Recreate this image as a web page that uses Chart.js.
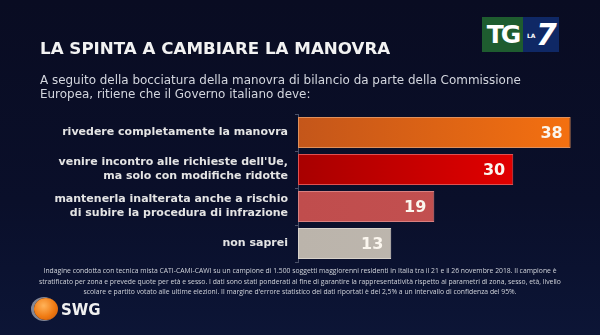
<!DOCTYPE html>
<html>
<head>
<meta charset="utf-8">
<script src="https://cdn.jsdelivr.net/npm/chart.js@4"></script>
<style>
  html, body { margin: 0; padding: 0; }
  body { width: 600px; height: 335px; overflow: hidden; }
  #wrap {
    position: relative; width: 600px; height: 335px;
    background: linear-gradient(180deg, #090c22 0%, #0a0f2a 60%, #0c1536 100%);
    font-family: "DejaVu Sans", Verdana, sans-serif;
  }
  #chart { position: absolute; left: 0; top: 0; }
  .txt { position: absolute; white-space: nowrap; }
  #title { left: 40px; top: 38px; font-size: 16.7px; font-weight: bold; color: #f2f2f2; }
  #subtitle { left: 40px; top: 73px; font-size: 11.95px; line-height: 14px; color: #d3d6de; }
  #note {
    left: 0; width: 600px; top: 266px; text-align: center;
    font-family: "Open Sans", sans-serif; font-size: 6.8px; line-height: 10.5px; color: #d0d3da;
  }
  #tg { position: absolute; left: 482px; top: 17px; width: 77px; height: 35px; }
  #tg .g { position: absolute; left: 0; top: 0; width: 41px; height: 35px; background: #1e5c2f;
           color: #fff; font: bold 25px "DejaVu Sans", sans-serif; letter-spacing: -3px; text-align: center; line-height: 35px; }
  #tg .b { position: absolute; left: 41px; top: 0; width: 36px; height: 35px; background: #0f2865; color: #fff; }
  #tg .la { position: absolute; left: 4px; top: 15px; font: bold 6px "DejaVu Sans", sans-serif; }
  #tg .seven { position: absolute; left: 13px; top: 0px; font: bold italic 30px "DejaVu Sans", sans-serif; }
  #swg { position: absolute; left: 34px; top: 298px; width: 24px; height: 22px; border-radius: 50%;
         background: radial-gradient(circle at 40% 35%, #ffb35a 0%, #f07a12 55%, #c65408 100%);
         box-shadow: -2px 0 0 1px rgba(230,230,230,0.55); }
  #swgt { left: 61px; top: 301px; font-size: 15px; font-weight: bold; color: #f0f0f0; }
</style>
</head>
<body>
<div id="wrap">
  <canvas id="chart" width="600" height="335"></canvas>
  <div class="txt" id="title">LA SPINTA A CAMBIARE LA MANOVRA</div>
  <div class="txt" id="subtitle">A seguito della bocciatura della manovra di bilancio da parte della Commissione<br>Europea, ritiene che il Governo italiano deve:</div>
  <div class="txt" id="note">Indagine condotta con tecnica mista CATI-CAMI-CAWI su un campione di 1.500 soggetti maggiorenni residenti in Italia tra il 21 e il 26 novembre 2018. Il campione è<br>stratificato per zona e prevede quote per età e sesso. I dati sono stati ponderati al fine di garantire la rappresentatività rispetto ai parametri di zona, sesso, età, livello<br>scolare e partito votato alle ultime elezioni. Il margine d'errore statistico dei dati riportati è del 2,5% a un intervallo di confidenza del 95%.</div>
  <div id="tg"><div class="g">TG</div><div class="b"><span class="la">LA</span><span class="seven">7</span></div></div>
  <div id="swg"></div>
  <div class="txt" id="swgt">SWG</div>
</div>
<script>
// Answers
const answers = [
    ['rivedere completamente la manovra'],
    ["venire incontro alle richieste dell'Ue,", 'ma solo con modifiche ridotte'],
    ['mantenerla inalterata anche a rischio', 'di subire la procedura di infrazione'],
    ['non saprei']
];
// Percentages
const percentages = [38, 30, 19, 13];

// Bar colours: [left, right] of the horizontal gradient, plus border
const barFrom = ['#c4561a', '#a80000', '#c04d4d', '#bbb4ab'];
const barTo = ['#f47010', '#f00000', '#c45252', '#bfb9b1'];
const barBorder = ['#e0905c', '#e05050', '#d98080', '#d8d2ca'];

function barGradient(ctx) {
    const chart = ctx.chart;
    const area = chart.chartArea;
    if (!area) return barFrom[ctx.dataIndex];
    const i = ctx.dataIndex;
    const g = chart.ctx.createLinearGradient(area.left, 0, area.left + 272, 0);
    g.addColorStop(0, barFrom[i]);
    g.addColorStop(1, barTo[i]);
    return g;
}

// Value labels inside the bar ends
const valueLabels = {
    id: 'valueLabels',
    afterDatasetsDraw(chart) {
        const ctx = chart.ctx;
        const meta = chart.getDatasetMeta(0);
        ctx.save();
        ctx.font = 'bold 16px "DejaVu Sans", sans-serif';
        ctx.fillStyle = '#fbf6ee';
        ctx.textAlign = 'right';
        ctx.textBaseline = 'middle';
        meta.data.forEach((bar, i) => {
            ctx.fillText(String(percentages[i]), bar.x - 8, bar.y + 1);
        });
        ctx.restore();
    }
};

new Chart(document.getElementById('chart'), {
    type: 'bar',
    data: {
        labels: answers,
        datasets: [{
            data: percentages,
            backgroundColor: barGradient,
            borderColor: barBorder,
            borderWidth: 1,
            borderSkipped: false,
            barPercentage: 0.84,
            categoryPercentage: 1
        }]
    },
    options: {
        indexAxis: 'y',
        responsive: false,
        animation: false,
        layout: {
            padding: { top: 114, bottom: 73, right: 15, left: 0 }
        },
        plugins: {
            legend: { display: false },
            tooltip: { enabled: false }
        },
        scales: {
            x: {
                display: false,
                min: 0,
                max: 40
            },
            y: {
                afterFit: s => { s.width = 298; },
                border: { display: true, color: '#4a5068', width: 1 },
                grid: {
                    drawOnChartArea: false,
                    drawTicks: true,
                    tickLength: 3,
                    color: '#4a5068'
                },
                ticks: {
                    color: '#e4e4e4',
                    padding: 7,
                    font: { family: '"DejaVu Sans", sans-serif', size: 11, weight: 'bold', lineHeight: 1.25 }
                }
            }
        }
    },
    plugins: [valueLabels]
});
</script>
</body>
</html>
